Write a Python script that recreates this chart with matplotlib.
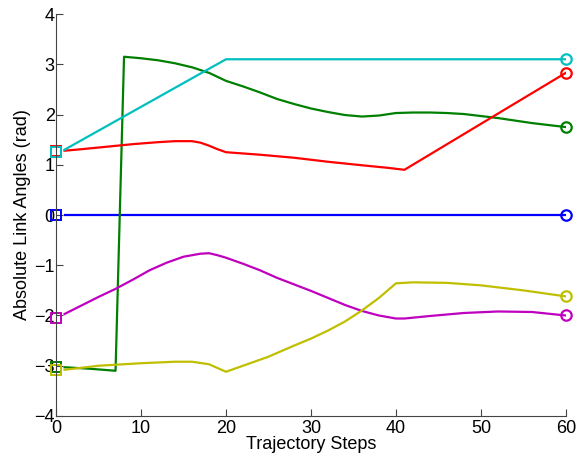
import matplotlib
matplotlib.use("Agg")
import matplotlib.pyplot as plt
import numpy as np

plt.rcParams['font.family'] = ['Liberation Sans', 'DejaVu Sans']

# joint angle trajectories (rad)
blue_steps = [1, 60]
blue_vals = [0.0, 0.0]

red_steps = [1, 3, 6, 9, 12, 14, 16, 17, 18, 19, 20, 24, 28, 32, 36, 39, 41, 60]
red_vals = [1.28, 1.31, 1.36, 1.41, 1.45, 1.47, 1.47, 1.44, 1.38, 1.31, 1.25, 1.20, 1.14, 1.06, 0.99, 0.94, 0.90, 2.83]

cyan_steps = [1, 20, 60]
cyan_vals = [1.30, 3.10, 3.10]

green_steps = [1, 4, 7, 8, 10, 12, 14, 16, 18, 20, 22, 24, 26, 28, 30, 32, 34, 36, 38, 40,
               42, 44, 46, 48, 50, 52, 54, 56, 58, 60]
green_vals = [-3.03, -3.06, -3.10, 3.15, 3.12, 3.08, 3.02, 2.94, 2.83, 2.67, 2.56, 2.44, 2.31,
              2.21, 2.12, 2.05, 1.99, 1.96, 1.98, 2.03, 2.04, 2.04, 2.03, 2.01, 1.97, 1.93,
              1.88, 1.83, 1.79, 1.75]

magenta_steps = [1, 3, 5, 7, 9, 11, 13, 15, 17, 18, 19, 20, 22, 24, 26, 28, 30, 32, 34, 36,
                 38, 40, 41, 44, 48, 52, 56, 60]
magenta_vals = [-1.97, -1.80, -1.63, -1.47, -1.29, -1.10, -0.95, -0.83, -0.77, -0.76, -0.80,
                -0.85, -0.97, -1.10, -1.25, -1.38, -1.51, -1.65, -1.79, -1.91, -2.00, -2.06,
                -2.06, -2.01, -1.95, -1.92, -1.93, -2.00]

yellow_steps = [1, 5, 10, 14, 16, 18, 20, 22, 25, 28, 30, 32, 34, 36, 38, 40, 42, 46, 50, 55, 60]
yellow_vals = [-3.08, -3.00, -2.95, -2.92, -2.92, -2.97, -3.12, -3.00, -2.82, -2.60, -2.46,
               -2.30, -2.12, -1.90, -1.65, -1.36, -1.34, -1.35, -1.40, -1.50, -1.62]

start_vals = {'blue': 0.0, 'green': -3.03, 'red': 1.27, 'cyan': 1.25, 'magenta': -2.05, 'yellow': -3.08}

colors = {'blue': (0, 0, 1), 'green': (0, 0.5, 0), 'red': (1, 0, 0),
          'cyan': (0, 0.75, 0.75), 'magenta': (0.75, 0, 0.75), 'yellow': (0.75, 0.75, 0)}

series = [('blue', blue_steps, blue_vals),
          ('green', green_steps, green_vals),
          ('red', red_steps, red_vals),
          ('cyan', cyan_steps, cyan_vals),
          ('magenta', magenta_steps, magenta_vals),
          ('yellow', yellow_steps, yellow_vals)]

fig = plt.figure(figsize=(5.78, 4.62), dpi=100)
ax = fig.add_axes([0.097, 0.0996, 0.882, 0.870])

for name, steps, vals in series:
    c = colors[name]
    ax.plot(steps, vals, color=c, lw=1.6)
    ax.plot([0], [start_vals[name]], marker='s', ms=6.5, mfc='none', mec=c, mew=1.4, ls='none',
            clip_on=False)
    ax.plot([steps[-1]], [vals[-1]], marker='o', ms=7.5, mfc='none', mec=c, mew=1.6, ls='none',
            clip_on=False)

ax.set_xlim(0, 60)
ax.set_ylim(-4, 4)
ax.set_xticks([0, 10, 20, 30, 40, 50, 60])
ax.set_yticks(np.arange(-4, 5, 1))
ax.spines['top'].set_visible(False)
ax.spines['right'].set_visible(False)
for s in ['left', 'bottom']:
    ax.spines[s].set_color('#444444')
    ax.spines[s].set_linewidth(0.8)
ax.tick_params(direction='in', length=5, width=0.8, color='#444444', labelsize=13, pad=1)
ax.tick_params(axis='x', pad=3)
ax.set_xlabel('Trajectory Steps', fontsize=13, labelpad=-1)
ax.set_ylabel('Absolute Link Angles (rad)', fontsize=13, labelpad=2)

fig.savefig('out.png', dpi=100)
